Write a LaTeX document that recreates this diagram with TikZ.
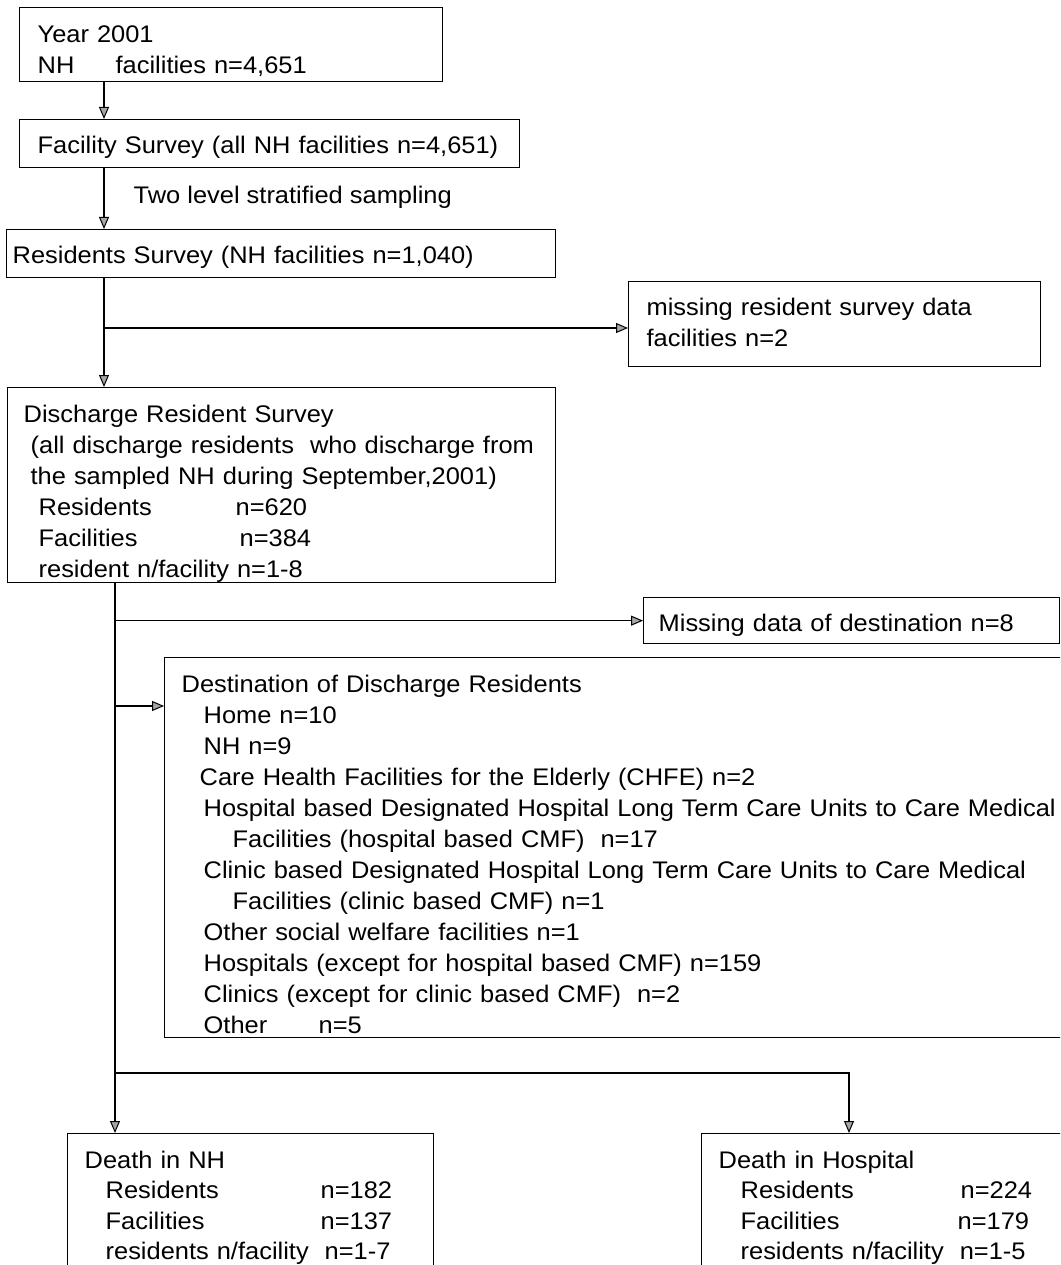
\documentclass[tikz,border=0pt]{standalone}
\usepackage{fontspec}
\setmainfont{Liberation Sans}[FakeStretch=1.06]
\usetikzlibrary{arrows.meta}
\newcommand\fst[1]{\rule{0pt}{#1pt}}
\newcommand\lst[1]{\rule[-#1pt]{0pt}{#1pt}}
\begin{document}
\begin{tikzpicture}[x=1pt,y=-1pt,
  box/.style={draw, line width=1.3pt, rectangle, anchor=north west, inner ysep=0pt,
    align=left, font=\fontsize{24}{31}\selectfont},
  dbox/.style={box, font=\fontsize{24}{30.5}\selectfont},
  conn/.style={line width=1.3pt},
  arr/.style={conn, -{Triangle[length=12pt,width=10pt,fill=gray!70,line width=1pt]}},
  lbl/.style={inner sep=0pt, font=\fontsize{24}{31}\selectfont}]
\path[use as bounding box, fill=white] (0,0) rectangle (1060,1265);
\clip (0,0) rectangle (1060,1265);

% boxes
\node[box, inner xsep=18pt, text width=387pt] (year) at (19,7)
  {\fst{34.5}Year 2001\\\makebox[78pt][l]{NH}facilities n=4,651\lst{8.5}};
\node[box, inner xsep=18pt, text width=464pt] (facility) at (19,119)
  {\fst{33.5}Facility Survey\hspace{8pt}(all NH facilities n=4,651)\lst{14.5}};
\node[box, inner xsep=6pt, text width=537pt] (residents) at (6,229)
  {\fst{33.5}Residents Survey (NH facilities n=1,040)\lst{14.5}};
\node[box, inner xsep=18pt, text width=376pt] (missres) at (628,281)
  {\fst{33.5}missing resident survey data\\facilities n=2\lst{20.5}};
\node[box, inner xsep=16pt, text width=516pt] (discharge) at (7,387)
  {\fst{34.5}Discharge Resident Survey\\
   \hspace*{7pt}\mbox{(all discharge residents\ \ who discharge from}\\
   \hspace*{7pt}\mbox{the sampled NH during September,2001)}\\
   \hspace*{15pt}\makebox[197pt][l]{Residents}n=620\\
   \hspace*{15pt}\makebox[201pt][l]{Facilities}n=384\\
   \hspace*{15pt}resident n/facility n=1-8\lst{5.5}};
\node[box, inner xsep=15pt, text width=386pt] (missdest) at (643,597)
  {\fst{33.5}Missing data of destination n=8\lst{12.5}};
\node[box, inner xsep=17pt, text width=902pt] (dest) at (164,657)
  {\fst{34.5}Destination of Discharge Residents\\
   \hspace*{22pt}Home n=10\\
   \hspace*{22pt}NH n=9\\
   \hspace*{18pt}Care Health Facilities for the Elderly (CHFE) n=2\\
   \hspace*{22pt}\mbox{Hospital based Designated Hospital Long Term Care Units to Care Medical}\\
   \hspace*{51pt}Facilities (hospital based CMF)\ \ n=17\\
   \hspace*{22pt}\mbox{Clinic based Designated Hospital Long Term Care Units to Care Medical}\\
   \hspace*{51pt}Facilities (clinic based CMF) n=1\\
   \hspace*{22pt}Other social welfare facilities n=1\\
   \hspace*{22pt}Hospitals (except for hospital based CMF) n=159\\
   \hspace*{22pt}Clinics (except for clinic based CMF)\ \ n=2\\
   \hspace*{22pt}\makebox[115pt][l]{Other}n=5\lst{4.5}};
\node[dbox, inner xsep=17pt, text width=332pt] (dnh) at (67,1133)
  {\fst{34.5}Death in NH\\
   \hspace*{21pt}\makebox[215pt][l]{Residents}n=182\\
   \hspace*{21pt}\makebox[215pt][l]{Facilities}n=137\\
   \hspace*{21pt}residents n/facility\ \ n=1-7\lst{40}};
\node[dbox, inner xsep=17pt, text width=365pt] (dh) at (701,1133)
  {\fst{34.5}Death in Hospital\\
   \hspace*{22pt}\makebox[220pt][l]{Residents}n=224\\
   \hspace*{22pt}\makebox[217pt][l]{Facilities}n=179\\
   \hspace*{22pt}residents n/facility\ \ n=1-5\lst{40}};

% helper coordinates
\coordinate (xa) at (104,0);
\coordinate (xb) at (115,0);
\coordinate (xc) at (849,0);
\coordinate (ya) at (0,328);
\coordinate (yd) at (0,706);
\coordinate (ye) at (0,1073);

% connectors
\draw[arr] (year.south -| xa) -- (facility.north -| xa);
\draw[arr] (facility.south -| xa) --
  node[lbl, pos=0.5, anchor=base west, xshift=29pt, yshift=-4.5pt] (samp) {Two level stratified sampling}
  (residents.north -| xa);
\draw[arr] (residents.south -| xa) -- (discharge.north -| xa);
\draw[arr] (xa |- ya) -- (missres.west |- ya);
\draw[arr] (discharge.south -| xb) -- (dnh.north -| xb);
\draw[arr] (xb |- missdest.west) -- (missdest.west);
\draw[arr] (xb |- yd) -- (dest.west |- yd);
\draw[arr] (xb |- ye) -| (dh.north -| xc);
\end{tikzpicture}
\end{document}
